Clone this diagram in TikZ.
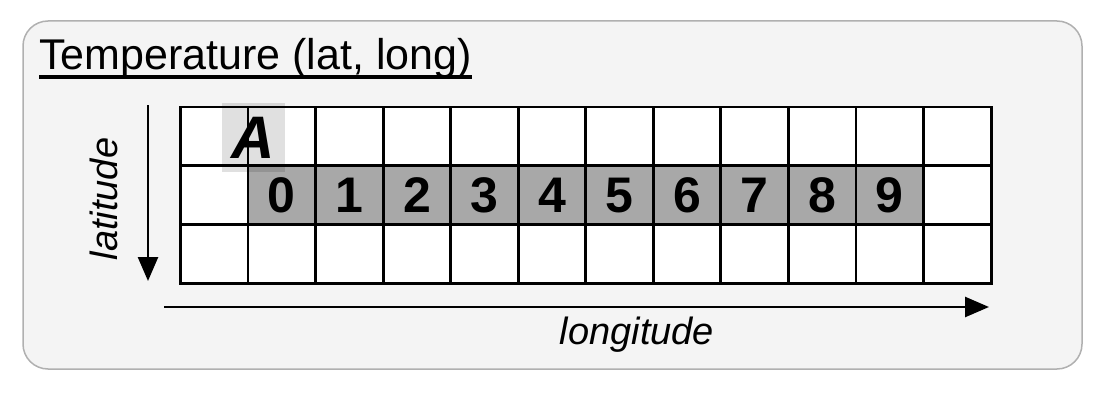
\documentclass[tikz,border=0pt]{standalone}
\usepackage{fontspec}
\setmainfont{Liberation Sans}
\usetikzlibrary{arrows.meta, calc}
\definecolor{panelgray}{HTML}{F4F4F4}
\definecolor{framegray}{HTML}{B0B0B0}
\definecolor{rowgray}{HTML}{A8A8A8}
\tikzset{
    my-cell/.style={
        draw, line width=2.8pt, fill=white, inner sep=0pt, outer sep=0pt,
        minimum width=67.6pt, minimum height=58.8pt
    },
    my-row-cell/.style={
        my-cell, fill=rowgray, font=\fontsize{50}{50}\selectfont\bfseries
    },
    my-axis/.style={
        line width=2.6pt, -{Triangle[length=24pt,width=20pt]}
    },
    my-axis-label/.style={
        inner sep=0pt, font=\fontsize{38}{38}\selectfont\itshape
    },
}
\begin{document}
\begin{tikzpicture}[x=1pt, y=-1pt]

        \useasboundingbox (0,0) rectangle (1109,404);

        % PANEL
        \node[draw=framegray, fill=panelgray, line width=1.5pt, rounded corners=25pt,
              inner sep=0pt, minimum width=1059pt, minimum height=348pt] (PANEL) at (552.5,195) {};

        % TITLE
        \node[anchor=base west, inner sep=0pt, font=\fontsize{43}{43}\selectfont] (TITLE) at (39,70) {Temperature (lat, long)};
        \draw[line width=3.5pt] ($(TITLE.base west) + (0,7)$) -- ($(TITLE.base east) + (0,7)$);

        % GRID
        \foreach \r in {0,1,2} {
            \foreach \c in {0,...,11} {
                \node[my-cell] (C-\r-\c) at ({180.5+67.55*(\c+0.5)}, {107+58.8*(\r+0.5)}) {};
            }
        }

        % ROW OF VALUES
        \foreach \c [evaluate=\c as \v using int(\c-1)] in {1,...,10} {
            \node[my-row-cell] (V-\v) at (C-1-\c) {\v};
        }

        % MARKER A
        \node[fill=black, fill opacity=.12, text opacity=1, inner sep=0pt,
              minimum width=63pt, minimum height=69pt,
              font=\fontsize{60}{60}\selectfont\bfseries\itshape] (A) at (253.5,137.5) {A};

        % AXES
        \coordinate (LATTOP)    at (148,105);
        \coordinate (LATEND)    at (148,281);
        \coordinate (LONGSTART) at (164,307);
        \coordinate (LONGEND)   at (989,307);
        \draw[my-axis] (LATTOP)    -- (LATEND);
        \draw[my-axis] (LONGSTART) -- (LONGEND);

        % AXIS LABELS
        \node[my-axis-label, rotate=90, anchor=base] (LAT)  at (117,199) {latitude};
        \node[my-axis-label, anchor=base]            (LONG) at (637,344) {longitude};

\end{tikzpicture}
\end{document}
